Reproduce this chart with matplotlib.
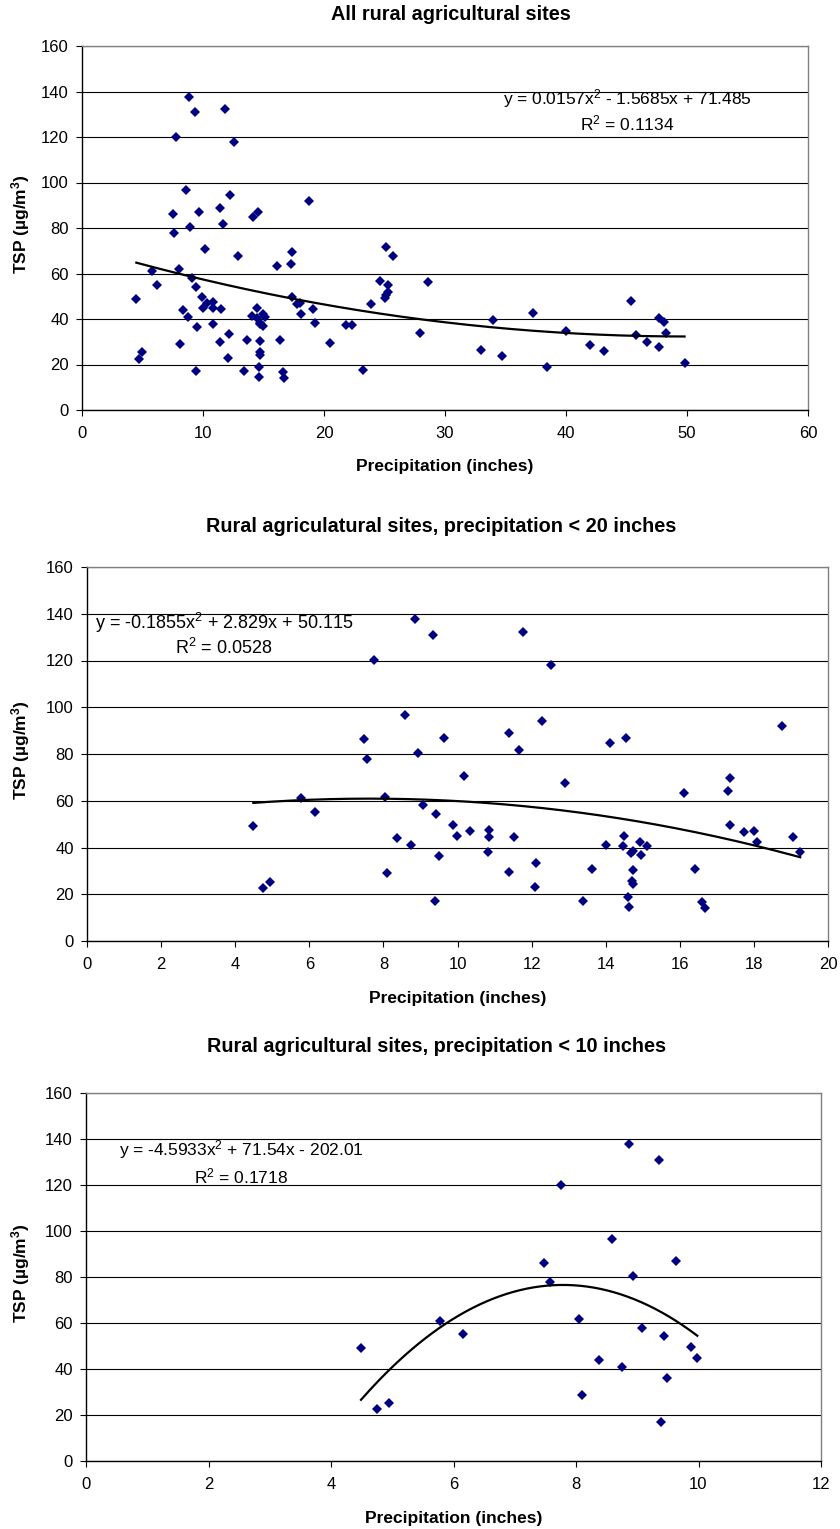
import numpy as np
import matplotlib
matplotlib.use("Agg")
import matplotlib.pyplot as plt

plt.rcParams['font.family'] = ['Liberation Sans', 'DejaVu Sans']
plt.rcParams['mathtext.fontset'] = 'custom'
plt.rcParams['mathtext.rm'] = 'Liberation Sans'
plt.rcParams['mathtext.bf'] = 'Liberation Sans:bold'
plt.rcParams['mathtext.default'] = 'regular'

# ---- data (precipitation in inches, TSP in ug/m3) ----
precip = [4.49, 4.75, 4.95, 5.78, 6.16, 7.48, 7.57, 7.75, 8.05, 8.09, 8.37, 8.59,
          8.75, 8.86, 8.93, 9.08, 9.35, 9.39, 9.43, 9.49, 9.64, 9.88, 9.98,
          10.18, 10.34, 10.83, 10.86, 10.86, 11.40, 11.40, 11.52, 11.66, 11.78,
          12.08, 12.11, 12.27, 12.53, 12.91, 13.40, 13.64, 14.01, 14.12, 14.47,
          14.50, 14.54, 14.59, 14.62, 14.68, 14.74, 14.73, 14.71, 14.73, 14.92,
          14.96, 15.12, 16.10, 16.40, 16.59, 16.69, 17.35, 17.31, 17.35, 17.73,
          17.99, 18.08, 18.75, 19.06, 19.25,
          20.5, 21.8, 22.3, 23.2, 23.9, 24.6, 25.0, 25.1, 25.3, 25.3, 25.1, 25.7,
          27.9, 28.6, 33.0, 34.0, 34.7, 37.3, 38.4, 40.0, 42.0, 43.1, 45.4, 45.8,
          46.7, 47.7, 48.1, 47.7, 48.3, 49.8]
tsp = [49.0, 22.6, 25.4, 61.0, 55.1, 86.3, 78.0, 120.2, 61.8, 28.9, 44.1, 96.7,
       41.0, 137.8, 80.4, 58.0, 130.9, 17.0, 54.2, 36.3, 86.9, 49.6, 45.0,
       70.7, 47.1, 38.0, 47.4, 44.7, 89.0, 29.7, 44.3, 81.7, 132.4,
       23.0, 33.3, 94.3, 117.9, 67.6, 17.0, 30.9, 41.1, 84.7, 40.6,
       44.9, 87.0, 18.9, 14.6, 37.6, 38.3, 30.3, 25.6, 24.3, 42.4,
       37.0, 40.7, 63.4, 30.9, 16.6, 14.0, 69.6, 64.3, 49.6, 46.6,
       47.1, 42.4, 92.0, 44.3, 38.1,
       29.6, 37.2, 37.2, 17.6, 46.7, 56.8, 49.1, 50.5, 51.7, 54.9, 71.5, 67.8,
       33.7, 56.1, 26.5, 39.6, 23.7, 42.5, 18.8, 34.9, 28.4, 25.9, 47.9, 33.0,
       30.0, 40.3, 38.8, 27.8, 33.7, 20.5]

titles = ["All rural agricultural sites",
          "Rural agriculatural sites, precipitation < 20 inches",
          "Rural agricultural sites, precipitation < 10 inches"]
precip_limits = [None, 20, 10]
x_max = [60, 20, 12]
x_step = [10, 2, 2]
trend_coefs = [[0.0157, -1.5685, 71.485],
               [-0.1855, 2.829, 50.115],
               [-4.5933, 71.54, -202.01]]
eq_texts = [r"y = 0.0157x$^{2}$ - 1.5685x + 71.485",
            r"y = -0.1855x$^{2}$ + 2.829x + 50.115",
            r"y = -4.5933x$^{2}$ + 71.54x - 202.01"]
r2_texts = [r"R$^{2}$ = 0.1134", r"R$^{2}$ = 0.0528", r"R$^{2}$ = 0.1718"]

# ---- layout (pixel-based) ----
W, H = 840, 1529
fig = plt.figure(figsize=(W / 100, H / 100), dpi=100)

def fx(px):
    return px / W

def fy(py):
    return 1 - py / H

axes_px = [(82, 46, 808, 410), (87, 567, 828, 941), (86, 1093, 821, 1461)]
title_px = [(451, 15), (441, 526), (437, 1047)]
eq_px = [(627, 99, 123), (224, 623, 648), (241, 1150, 1176)]
eq_size = [12.5, 13, 12.5]
xlabel_off = 57

px_arr = np.array(precip)
tsp_arr = np.array(tsp)

for i in range(3):
    l, t, r, b = axes_px[i]
    ax = fig.add_axes([fx(l), fy(b), (r - l) / W, (b - t) / H])
    if precip_limits[i] is None:
        m = np.ones(len(px_arr), dtype=bool)
    else:
        m = px_arr < precip_limits[i]
    xs, ys = px_arr[m], tsp_arr[m]

    ax.set_xlim(0, x_max[i])
    ax.set_ylim(0, 160)
    ax.set_xticks(np.arange(0, x_max[i] + 0.1, x_step[i]))
    ax.set_yticks(np.arange(0, 161, 20))
    ax.yaxis.grid(True, color='black', linewidth=0.8)
    ax.set_axisbelow(True)
    for s in ['top', 'right']:
        ax.spines[s].set_color('#808080')
        ax.spines[s].set_linewidth(1.0)
    for s in ['left', 'bottom']:
        ax.spines[s].set_color('black')
        ax.spines[s].set_linewidth(1.0)
    ax.tick_params(axis='both', direction='out', length=4, width=0.8,
                   labelsize=12)
    ax.tick_params(axis='x', pad=7.5)
    ax.tick_params(axis='y', pad=5.5)

    ax.plot(xs, ys, linestyle='none', marker='D', markersize=5.1,
            color='#000080', markeredgewidth=0)

    xx = np.linspace(xs.min(), xs.max(), 200)
    ax.plot(xx, np.polyval(trend_coefs[i], xx), color='black', linewidth=1.6)

    ex, ey1, ey2 = eq_px[i]
    fig.text(fx(ex), fy(ey1), eq_texts[i], ha='center', va='center', fontsize=eq_size[i])
    fig.text(fx(ex), fy(ey2), r2_texts[i], ha='center', va='center', fontsize=eq_size[i])

    tx, ty = title_px[i]
    fig.text(fx(tx), fy(ty), titles[i], ha='center', va='center',
             fontsize=14.3, fontweight='bold')
    fig.text(fx((l + r) / 2), fy(b + xlabel_off), "Precipitation (inches)",
             ha='center', va='center', fontsize=12.5, fontweight='bold')
    fig.text(fx(21), fy((t + b) / 2 - 4), r"TSP (µg/m$^{\mathbf{3}}$)", rotation=90,
             ha='center', va='center', fontsize=12.5, fontweight='bold')

fig.savefig("out.png", dpi=100, facecolor='white')
